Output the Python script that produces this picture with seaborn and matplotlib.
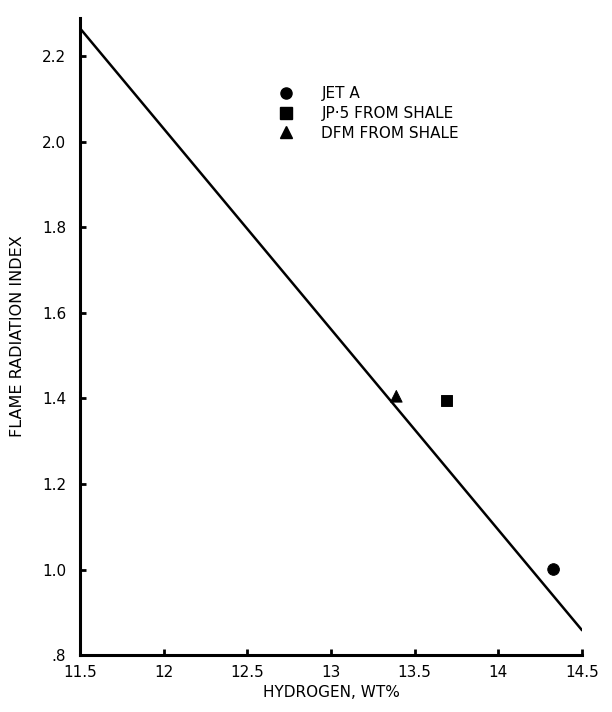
import matplotlib
matplotlib.use("Agg")
import matplotlib.pyplot as plt
import seaborn as sns
import pandas as pd
from matplotlib.lines import Line2D

sns.set_theme(style="ticks")
plt.rcParams['font.family'] = ['DejaVu Sans']

# Data
fuels = ["JET A", "JP-5 FROM SHALE", "DFM FROM SHALE"]
legend_labels = ["JET A", "JP\u00b75 FROM SHALE", "DFM FROM SHALE"]
hydrogen = [14.33, 13.69, 13.39]
fri = [1.00, 1.395, 1.405]
fit_x = [11.5, 14.5]
fit_y = [2.265, 0.858]
xticks = [11.5, 12, 12.5, 13, 13.5, 14, 14.5]
xtick_labels = ["11.5", "12", "12.5", "13", "13.5", "14", "14.5"]
yticks = [0.8, 1.0, 1.2, 1.4, 1.6, 1.8, 2.0, 2.2]
ytick_labels = [".8", "1.0", "1.2", "1.4", "1.6", "1.8", "2.0", "2.2"]

df = pd.DataFrame({"fuel": fuels, "h": hydrogen, "fri": fri})
fit = pd.DataFrame({"h": fit_x, "fri": fit_y})

fig = plt.figure(figsize=(6.12, 7.12), dpi=100)
ax = fig.add_axes([0.131, 0.080, 0.820, 0.895])

sns.lineplot(data=fit, x="h", y="fri", ax=ax, color="black", linewidth=1.8)
markers = {"JET A": "o", "JP-5 FROM SHALE": "s", "DFM FROM SHALE": "^"}
sns.scatterplot(data=df, x="h", y="fri", style="fuel", markers=markers,
                color="black", s=70, edgecolor="black", ax=ax, legend=False, zorder=3)

ax.set_xlim(11.5, 14.5)
ax.set_ylim(0.8, 2.29)
ax.set_xticks(xticks)
ax.set_xticklabels(xtick_labels)
ax.set_yticks(yticks)
ax.set_yticklabels(ytick_labels)
ax.tick_params(direction="in", length=4, width=2, color="black",
               labelsize=11, labelcolor="black")
ax.tick_params(axis="y", pad=10)
ax.tick_params(axis="x", pad=7)

for s in ["top", "right"]:
    ax.spines[s].set_visible(False)
for s in ["left", "bottom"]:
    ax.spines[s].set_linewidth(2.2)
    ax.spines[s].set_color("black")

ax.set_xlabel("HYDROGEN, WT%", fontsize=11, labelpad=4, color="black")
ax.set_ylabel("FLAME RADIATION INDEX", fontsize=11.5, labelpad=12, color="black")

handles = [Line2D([], [], linestyle="none", marker=markers[f], color="black",
                  markersize=8) for f in fuels]
leg = ax.legend(handles, legend_labels, loc="upper left",
                bbox_to_anchor=(0.365, 0.905), frameon=False, fontsize=11,
                handletextpad=1.3, labelspacing=0.32, borderpad=0)
for t in leg.get_texts():
    t.set_color("black")

fig.savefig("out.png", dpi=100)
